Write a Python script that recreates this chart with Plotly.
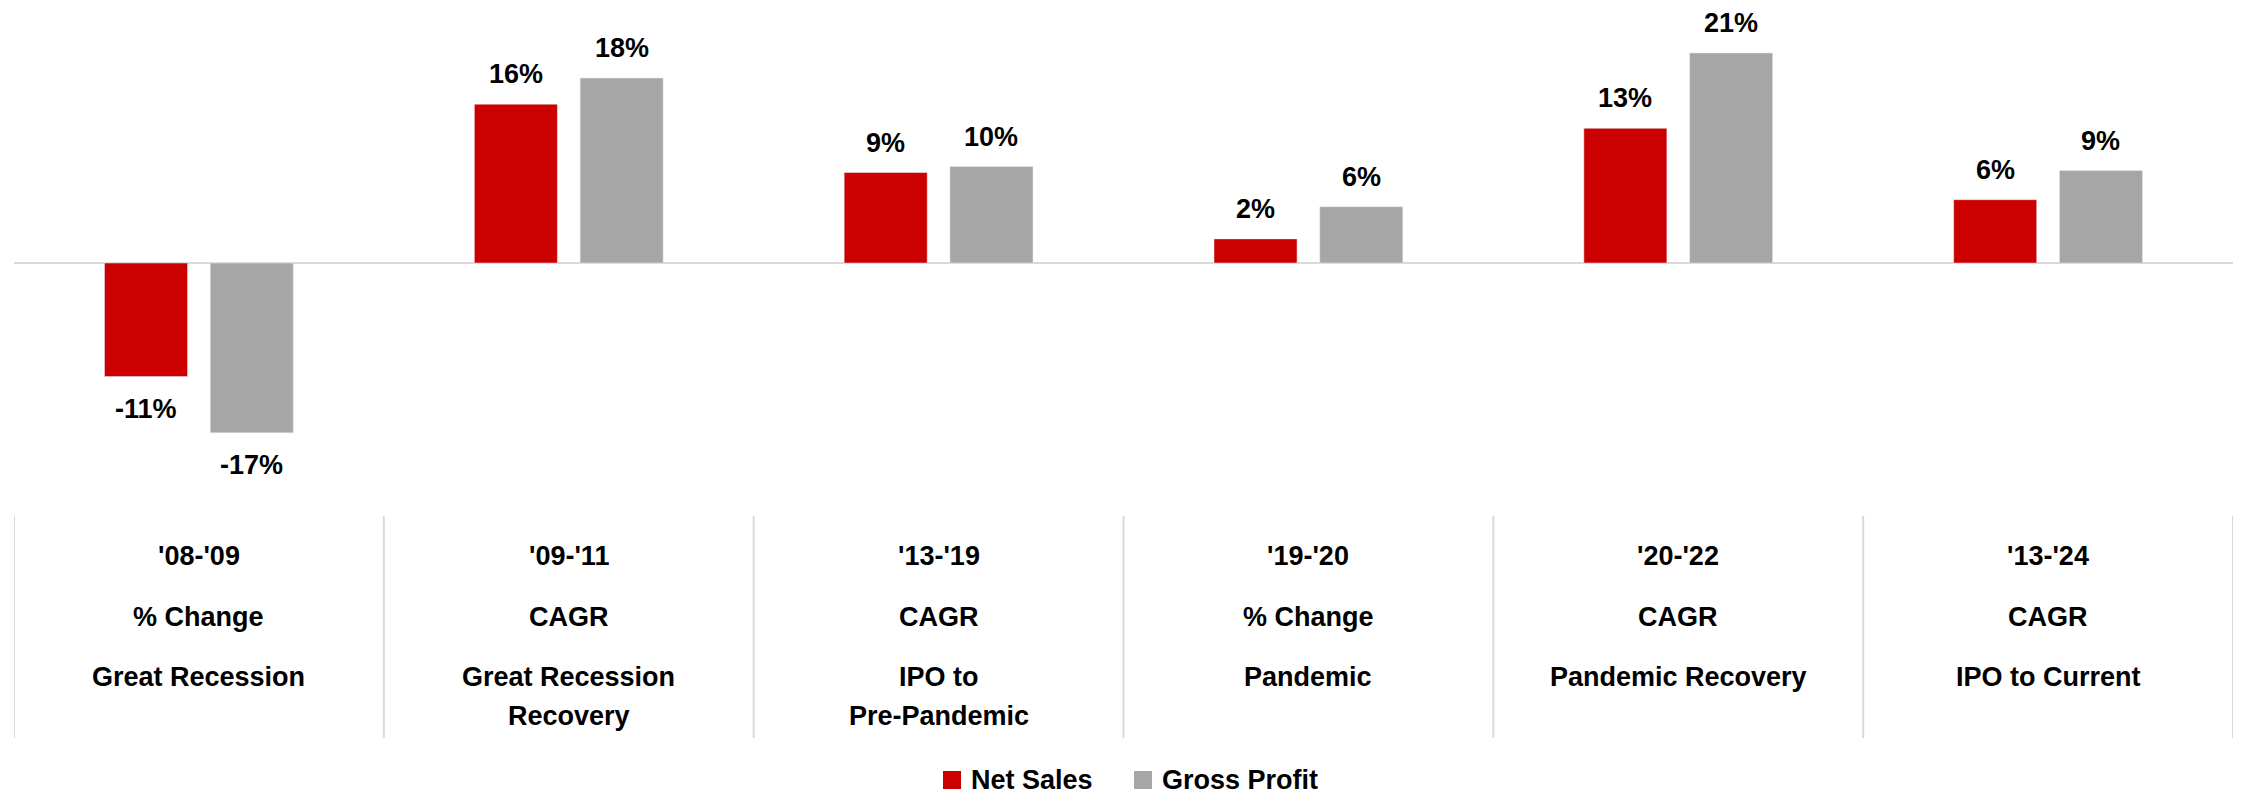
import plotly.graph_objects as go

periods = ["'08-'09", "'09-'11", "'13-'19", "'19-'20", "'20-'22", "'13-'24"]
metrics = ["% Change", "CAGR", "CAGR", "% Change", "CAGR", "CAGR"]
descriptions = [
    "Great Recession",
    "Great Recession<br>Recovery",
    "IPO to<br>Pre-Pandemic",
    "Pandemic",
    "Pandemic Recovery",
    "IPO to Current",
]
net_sales = [-0.113, 0.158, 0.090, 0.024, 0.134, 0.063]
gross_profit = [-0.169, 0.184, 0.096, 0.056, 0.209, 0.092]
series_names = ["Net Sales", "Gross Profit"]

RED = "#CC0000"
GRAY = "#A6A6A6"
LINE = "#D9D9D9"
FONT = "Liberation Sans, Arial, sans-serif"
BOLD27 = dict(size=27, color="#000000", family=FONT, weight="bold")

# the page body has an 8px default margin, so the figure is made smaller
# and all pixel positions below are page positions
PAGE_W, PAGE_H, BODY = 2247, 794, 8
W, H = PAGE_W - BODY, PAGE_H - BODY
PLOT_LEFT, PLOT_RIGHT = 14, 2233
PLOT_TOP, PLOT_BOTTOM = 20, 500
ZERO_Y, PX_PER_UNIT = 263, 1005
BARGAP = 0.428


def paper_y(py):
    return (PLOT_BOTTOM - py) / (PLOT_BOTTOM - PLOT_TOP)


def paper_x(px):
    return (px - PLOT_LEFT) / (PLOT_RIGHT - PLOT_LEFT)


x_idx = list(range(len(periods)))

fig = go.Figure()
fig.add_bar(x=x_idx, y=net_sales, name=series_names[0], marker_color=RED)
fig.add_bar(x=x_idx, y=gross_profit, name=series_names[1], marker_color=GRAY)

# value labels above / below each bar
half = (1 - BARGAP) / 4
for series, shift in [(net_sales, -half), (gross_profit, half)]:
    for i, v in enumerate(series):
        fig.add_annotation(
            x=i + shift, y=v, xref="x", yref="y",
            text=f"{v * 100:.0f}%", showarrow=False,
            yanchor="bottom" if v >= 0 else "top",
            yshift=13 if v >= 0 else -15,
            font=BOLD27,
        )

# table under the chart (one annotation per text line)
rows = [(periods, 556), (metrics, 617), (descriptions, 677)]
for labels, mid in rows:
    for i, lab in enumerate(labels):
        for k, part in enumerate(lab.split("<br>")):
            fig.add_annotation(
                x=i, y=paper_y(mid + 39 * k), xref="x", yref="paper",
                text=part, showarrow=False, yanchor="middle",
                font=BOLD27,
            )

for b in range(len(periods) + 1):
    fig.add_shape(
        type="line", xref="x", yref="paper",
        x0=b - 0.5, x1=b - 0.5, y0=paper_y(516), y1=paper_y(738),
        line=dict(color=LINE, width=2),
    )

# legend: coloured squares + names
for (name, color), left in zip(zip(series_names, [RED, GRAY]), [943, 1134]):
    fig.add_shape(
        type="rect", xref="paper", yref="paper",
        x0=paper_x(left), x1=paper_x(left + 18),
        y0=paper_y(789), y1=paper_y(771),
        fillcolor=color, line=dict(width=0),
    )
    fig.add_annotation(
        x=paper_x(left + 26), y=paper_y(780), xref="paper", yref="paper",
        text=name, showarrow=False, xanchor="left", yanchor="middle",
        font=BOLD27,
    )

fig.update_layout(
    width=W, height=H,
    paper_bgcolor="white", plot_bgcolor="white",
    margin=dict(l=PLOT_LEFT - BODY, r=W - (PLOT_RIGHT - BODY),
                t=PLOT_TOP - BODY, b=H - (PLOT_BOTTOM - BODY)),
    barmode="group", bargap=BARGAP, bargroupgap=0.215,
    showlegend=False,
    font=dict(family=FONT),
)
fig.update_xaxes(range=[-0.5, len(periods) - 0.5], showticklabels=False,
                 showgrid=False, zeroline=False, showline=False)
fig.update_yaxes(range=[-(PLOT_BOTTOM - ZERO_Y) / PX_PER_UNIT, (ZERO_Y - PLOT_TOP) / PX_PER_UNIT],
                 showticklabels=False, showgrid=False,
                 zeroline=True, zerolinecolor=LINE, zerolinewidth=2)

fig.write_html("out.html")
